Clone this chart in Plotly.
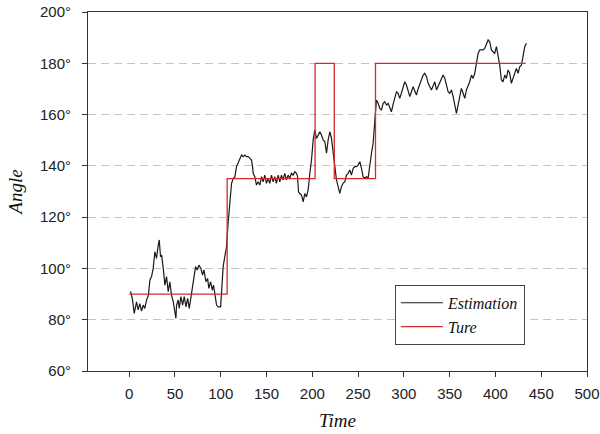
import plotly.graph_objects as go

# Estimated angle over time
est_time = [1.5, 3.5, 5.5, 7, 8, 9.8, 11.6, 13.5, 15.3, 17, 19, 21, 22.6, 24.4, 26.2, 28, 29.8, 31.7, 32.8, 34.2,
            35.4, 37.2, 39, 40.8, 42.6, 44.4, 46.2, 48.1, 49.9, 51, 51.7, 53.5, 54.6, 56.5, 58.3, 60.1, 62, 63.8,
            65.6, 67.4, 69.2, 71, 72.5, 74.3, 76.1, 78.3, 80.1, 81.6, 83.8, 85.6, 87, 88.9, 90.7, 92.1, 93.6, 95.4,
            97.2, 99.8, 100.9, 102.6, 104.4, 106.3, 108, 110, 111.8, 113.6, 115.4, 117.2, 119, 120.9, 122.7, 124.5,
            126.3, 128.1, 129.9, 131.7, 133.6, 134.7, 135.4, 137.2, 139, 140.8, 142.7, 144.5, 146.3, 148.1, 149.9,
            151.8, 153.6, 155.4, 157.2, 159, 160.8, 162.7, 164.5, 166.3, 168.1, 169.9, 171.7, 173.6, 175.4, 177.2,
            179, 180.8, 182.7, 183.8, 184.9, 186.3, 188.2, 190, 191.8, 193.6, 195.4, 197.3, 199.1, 200.9, 202.7,
            204.6, 206.4, 208.2, 210, 211.8, 213.7, 215.5, 217.3, 219.1, 220.9, 222.7, 224.6, 226.4, 228.2, 230,
            231.8, 233.6, 235.5, 237.3, 239.1, 240.9, 242.7, 244.6, 246.4, 248.2, 250, 251.9, 253.7, 255.5, 257.3,
            259.1, 260.9, 262.8, 264.6, 266.4, 268.2, 270, 271.9, 273.7, 275.5, 277.3, 279.1, 281, 282.8, 284.6,
            286.4, 288.2, 290.1, 291.9, 293.7, 295.5, 297.4, 299.2, 301, 302.8, 304.6, 306.5, 308.3, 310.1, 311.9,
            313.7, 315.5, 317.4, 319.2, 321, 322.8, 324.7, 326.5, 328.3, 330.1, 332, 333.8, 335.6, 337.4, 339.2,
            341, 342.9, 344.7, 346.5, 348.3, 350.1, 352, 353.8, 355.6, 357.4, 359.2, 361, 362.8, 364.7, 366.5,
            368.3, 370.1, 371.9, 373.8, 375.6, 377.4, 379.2, 381.1, 382.9, 386.5, 388.3, 390.1, 392, 393.8, 395.6,
            397.4, 399.2, 401.1, 402.9, 404.7, 406.5, 408.3, 410.2, 412, 413.8, 415.6, 417.4, 419.3, 421.1, 422.9,
            424.7, 426.6, 428.4, 430.2, 432, 433.8]
est_angle = [91, 88, 82.5, 86.5, 87, 83.8, 86.3, 83.4, 85.7, 84.4, 87.7, 89.6, 95.5, 96.8, 100, 106.5, 103.9, 109.1,
             111.1, 104.6, 105.2, 100, 93.5, 96.8, 90.9, 94.8, 89.6, 87, 82.5, 80.5, 85.7, 87.7, 84.4, 89, 85.7, 89,
             85, 88.3, 84.4, 89, 93.5, 96.8, 100.7, 99.4, 101.3, 100, 97.4, 99.4, 94.8, 96.1, 92.2, 94.8, 91.5, 93.5,
             90.3, 85.7, 85, 85, 90.9, 100.7, 104.6, 108.5, 117.6, 126.7, 133.2, 135.1, 135.7, 139.7, 141, 142.3,
             144.2, 143.6, 144.2, 143.6, 143.6, 143, 142.3, 139.7, 137.1, 135.8, 132.5, 133.8, 132.5, 135.8, 133.8,
             136.4, 133.2, 135.1, 133.2, 136.4, 133.8, 135.8, 133.2, 136.4, 133.8, 136.4, 134.5, 137.1, 134.5, 136.4,
             135.1, 137.1, 136.4, 137.7, 137.1, 136, 129.9, 129.2, 128.6, 126, 129.2, 127.9, 130.5, 137.1, 142.3,
             150.1, 154, 150.7, 152, 153.3, 152, 150.1, 149.4, 144.9, 150.1, 153.3, 150.7, 144.9, 139.7, 134.5,
             131.9, 129.3, 131.9, 133.2, 133.8, 136.4, 137.1, 138.4, 136.4, 139, 139.7, 139.7, 140.3, 141.6, 139,
             135.8, 135.1, 135.8, 135.1, 141, 144.9, 148.8, 159.2, 165.7, 164.4, 162.4, 161.7, 164.4, 165, 163.7,
             164.4, 162.4, 161.1, 164, 167, 168.9, 168.3, 166.3, 168.5, 170.9, 172.8, 171.5, 169.6, 167, 169, 170.9,
             169.2, 167.6, 170, 172.2, 174, 175.4, 176.1, 174.8, 172.2, 171, 169.6, 171.2, 172.8, 169.6, 171, 172.2,
             174, 175.4, 174.1, 171.5, 168.9, 168.3, 169.6, 167, 163.1, 160.5, 163.7, 167.6, 170.2, 168.3, 166.3,
             169.6, 170.9, 172.8, 175.4, 174.1, 176.1, 179.3, 183.9, 185.2, 185.2, 185.8, 187.8, 189.1, 188.4, 185.2,
             184.5, 183.9, 186.5, 182.6, 179.3, 173.5, 172.8, 175.4, 174.1, 177.4, 176.1, 172.2, 174.1, 176.1, 178,
             176.1, 178.7, 179.3, 182.6, 186.5, 187.8]

# True angle: piecewise constant steps
true_time = [0, 107, 203, 224, 269, 433]
true_angle = [90, 135, 180, 135, 180, 180]

x_ticks = [0, 50, 100, 150, 200, 250, 300, 350, 400, 450, 500]
y_ticks = [60, 80, 100, 120, 140, 160, 180, 200]
y_tick_text = [f"{v}°" for v in y_ticks]

serif = "Liberation Serif, Times New Roman, serif"
sans = "Liberation Sans, Arial, sans-serif"

fig = go.Figure()
fig.add_trace(go.Scatter(x=est_time, y=est_angle, mode="lines", name="Estimation",
                         line=dict(color="#1a1a1a", width=1.2)))
fig.add_trace(go.Scatter(x=true_time, y=true_angle, mode="lines", name="Ture",
                         line=dict(color="#d42a2a", width=1.3, shape="hv")))

fig.update_layout(
    width=600, height=434,
    margin=dict(l=88, r=13, t=12, b=63),
    paper_bgcolor="white", plot_bgcolor="white",
    showlegend=True,
    legend=dict(x=0.615, y=0.24, xanchor="left", yanchor="top",
                bgcolor="white", bordercolor="#444444", borderwidth=1,
                font=dict(family=serif, size=16, color="#111111", style="italic"),
                itemwidth=42, tracegroupgap=0),
)

fig.update_xaxes(
    range=[-45, 500], tickmode="array", tickvals=x_ticks, automargin=False,
    ticks="outside", ticklen=5, tickcolor="#333333", tickwidth=1,
    showline=True, linecolor="#333333", linewidth=1, mirror=True,
    showgrid=False, zeroline=False,
    tickfont=dict(family=sans, size=15, color="#222222"),
    ticklabelstandoff=4,
    title=dict(text="Time", font=dict(family=serif, size=19, color="#111111", style="italic"), standoff=12),
)
fig.update_yaxes(
    range=[60, 200], tickmode="array", tickvals=y_ticks, ticktext=y_tick_text, automargin=False,
    ticks="outside", ticklen=5, tickcolor="#333333", tickwidth=1,
    showline=True, linecolor="#333333", linewidth=1, mirror=True,
    showgrid=True, gridcolor="#c4c4c4", gridwidth=1, griddash="8px,5px",
    zeroline=False,
    tickfont=dict(family=sans, size=15, color="#222222"),
    ticklabelstandoff=8,
    title=dict(text="Angle", font=dict(family=serif, size=19, color="#111111", style="italic"), standoff=12),
)

fig.write_html("out.html")
